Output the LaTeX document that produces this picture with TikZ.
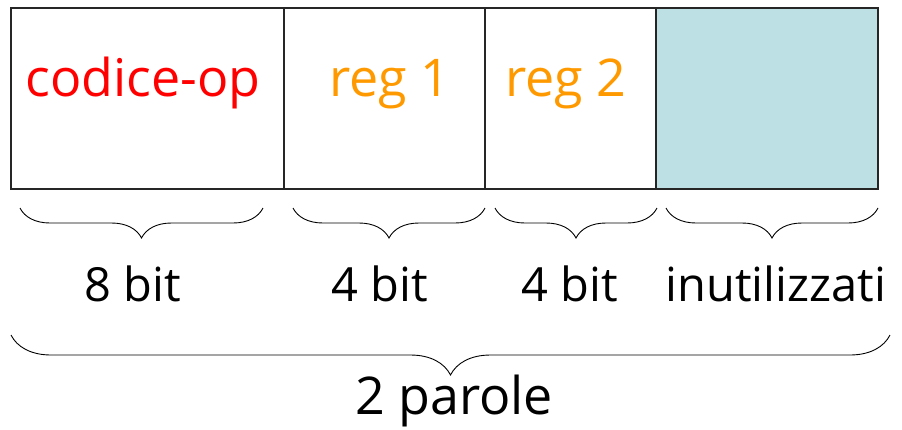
\documentclass[tikz,border=0pt]{standalone}
\usepackage{fontspec}
\setmainfont{Open Sans}
\usetikzlibrary{decorations.pathreplacing}
\definecolor{cellteal}{HTML}{BCE0E3}
\definecolor{regorange}{HTML}{FF9900}
\begin{document}
\begin{tikzpicture}[x=1pt,y=-1pt,
  cell/.style={draw=black!85, line width=1.3pt, minimum height=181pt, inner sep=0pt, outer sep=0pt, anchor=north west},
  toptext/.style={font=\fontsize{52}{60}\selectfont, anchor=base, inner sep=0pt},
  bottext/.style={font=\fontsize{47}{56}\selectfont, anchor=base, inner sep=0pt},
  smallbrace/.style={draw, line width=0.9pt, decorate, decoration={brace, mirror, amplitude=30pt}},
  bigbrace/.style={draw, line width=0.9pt, decorate, decoration={brace, mirror, amplitude=40pt}}]
\useasboundingbox (0,0) rectangle (902,429);
\node[cell, minimum width=273pt] (op) at (11,8) {};
\node[cell, minimum width=201pt] (r1) at (284,8) {};
\node[cell, minimum width=171pt] (r2) at (485,8) {};
\node[cell, minimum width=222pt, fill=cellteal] (un) at (656,8) {};
\node[toptext, text=red] (top) at (143,96) {codice-op};
\node[toptext, text=regorange] (tr1) at (390,96) {reg 1};
\node[toptext, text=regorange] (tr2) at (566,96) {reg 2};
\coordinate (b1a) at (20,208); \coordinate (b1b) at (263,208);
\coordinate (b2a) at (293,208); \coordinate (b2b) at (485,208);
\coordinate (b3a) at (495,208); \coordinate (b3b) at (657,208);
\coordinate (b4a) at (666,208); \coordinate (b4b) at (878,208);
\coordinate (bba) at (11,335); \coordinate (bbb) at (890,335);
\draw[smallbrace] (b1a) -- (b1b);
\draw[smallbrace] (b2a) -- (b2b);
\draw[smallbrace] (b3a) -- (b3b);
\draw[smallbrace] (b4a) -- (b4b);
\draw[bigbrace] (bba) -- (bbb);
\node[bottext] (l1) at (133,301) {8 bit};
\node[bottext] (l2) at (380,301) {4 bit};
\node[bottext] (l3) at (570,301) {4 bit};
\node[bottext] (l4) at (776,301) {inutilizzati};
\node[toptext] (l5) at (454,414) {2 parole};
\end{tikzpicture}
\end{document}
